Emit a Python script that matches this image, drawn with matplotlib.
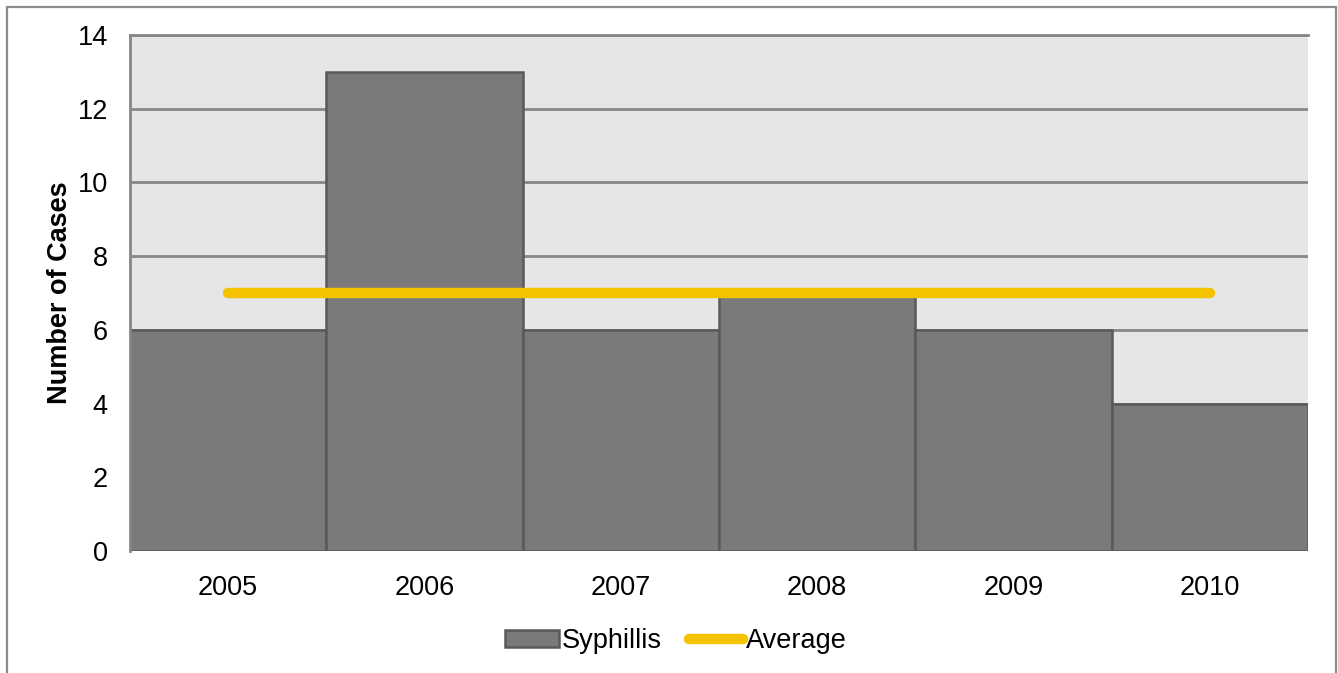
import matplotlib
matplotlib.use("Agg")
import matplotlib.pyplot as plt
from matplotlib.patches import Rectangle
import numpy as np

years = ["2005", "2006", "2007", "2008", "2009", "2010"]
syphillis = [6, 13, 6, 7, 6, 4]
average = [7, 7, 7, 7, 7, 7]
yticks = [0, 2, 4, 6, 8, 10, 12, 14]

plt.rcParams['font.family'] = ['Liberation Sans', 'DejaVu Sans']

W, H = 1338, 673
FS = 19.5
fig = plt.figure(figsize=(W / 100, H / 100), dpi=100)

# outer chart border
fig.patches.append(Rectangle((7 / W, -0.05), (1336 - 7) / W, 1.05 - 7 / H,
                             transform=fig.transFigure, fill=False,
                             edgecolor='#8c8c8c', linewidth=1.6, zorder=0))

ax = fig.add_axes([130 / W, 1 - 551 / H, (1308 - 130) / W, (551 - 35) / H])
ax.set_facecolor('#e6e6e6')

x = np.arange(len(years))
bars = ax.bar(x, syphillis, width=1.0, color='#7a7a7a', edgecolor='#595959',
              linewidth=1.8, label='Syphillis', zorder=2)
line, = ax.plot(x, average, color='#f5c200', linewidth=7.5, solid_capstyle='round',
                label='Average', zorder=3)

ax.set_xlim(-0.5, len(years) - 0.5)
ax.set_ylim(0, 14)
ax.set_yticks(yticks)
ax.set_xticks(x)
ax.set_xticklabels(years)
ax.tick_params(axis='both', length=0, labelsize=FS, colors='black')
ax.tick_params(axis='y', pad=16)
ax.tick_params(axis='x', pad=17)
ax.yaxis.grid(True, color='#878787', linewidth=2)
ax.set_axisbelow(True)
for s in ['right', 'bottom']:
    ax.spines[s].set_visible(False)
ax.spines['top'].set_color('#878787')
ax.spines['top'].set_linewidth(2)
ax.spines['left'].set_color('#878787')
ax.spines['left'].set_linewidth(2)

ax.set_ylabel('Number of Cases', fontsize=FS, fontweight='bold', labelpad=3)

leg = fig.legend([bars, line], ['Syphillis', 'Average'], loc='center',
                 bbox_to_anchor=(676 / W, 1 - 641 / H), ncol=2,
                 frameon=False, fontsize=FS, handlelength=2.0,
                 handleheight=0.55, handletextpad=0.1, columnspacing=1.0)

fig.savefig('out.png', dpi=100)
